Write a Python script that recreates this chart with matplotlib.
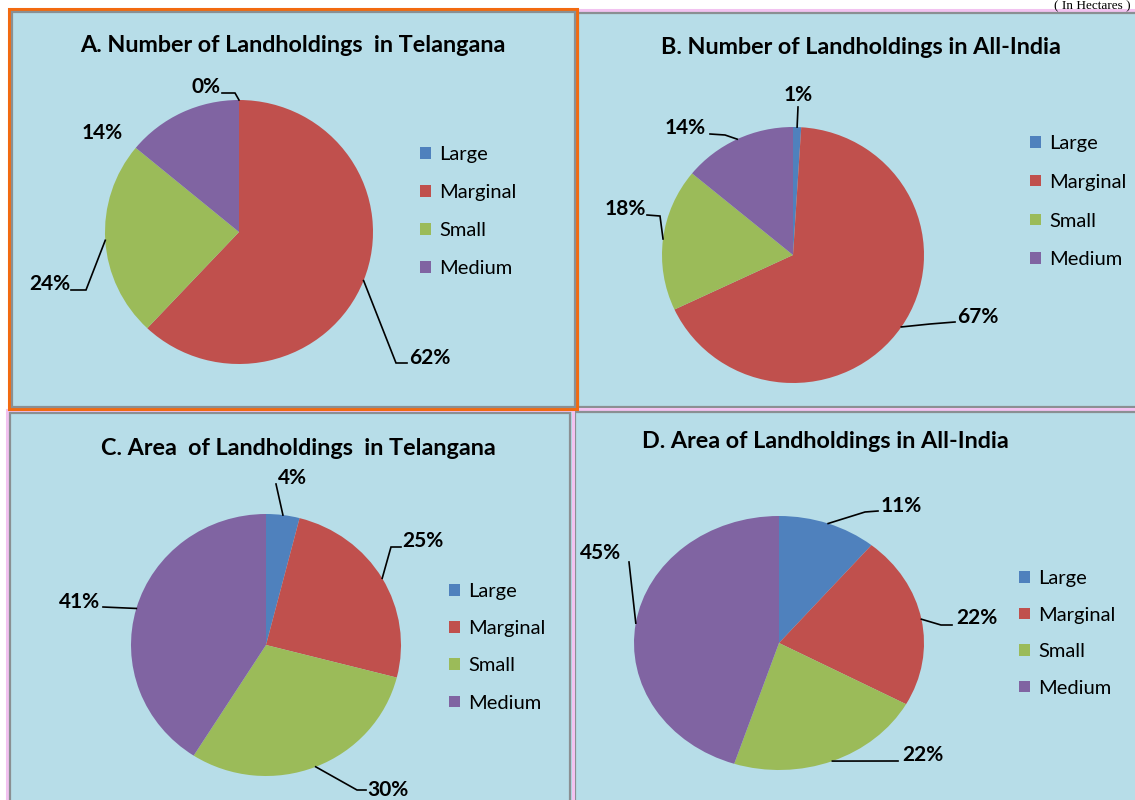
import numpy as np
import matplotlib
matplotlib.use("Agg")
import matplotlib.pyplot as plt
from matplotlib.patches import Rectangle

# ---------------- data ----------------
categories = ["Large", "Marginal", "Small", "Medium"]
colors = ["#4F81BD", "#C0504D", "#9BBB59", "#8064A2"]

titles = [
    "A. Number of Landholdings  in Telangana",
    "B. Number of Landholdings in All-India",
    "C. Area  of Landholdings  in Telangana",
    "D. Area of Landholdings in All-India",
]
num_telangana = [0, 62, 24, 14]
num_india = [1, 67, 18, 14]
area_telangana = [4, 25, 30, 41]
area_india = [11, 22, 22, 45]
series = [num_telangana, num_india, area_telangana, area_india]
unit_note = "( In Hectares )"

# ---------------- layout (pixels) ----------------
W, H = 1135, 800
BG = "#B7DDE8"
fig = plt.figure(figsize=(W / 100, H / 100), dpi=100)
fig.patch.set_facecolor("white")

FONT = "Lato"


def fx(x):
    return x / W


def fy(y):
    return 1 - y / H


def frame(x0, y0, x1, y1, outer, inner, z):
    fig.patches.append(Rectangle((fx(x0), fy(y1)), fx(x1 - x0), (y1 - y0) / H,
                                 transform=fig.transFigure, facecolor=BG,
                                 edgecolor=outer, linewidth=2.2, zorder=z))
    fig.patches.append(Rectangle((fx(x0 + 3), fy(y1 - 2.5)), fx(x1 - x0 - 5.5), (y1 - y0 - 5) / H,
                                 transform=fig.transFigure, facecolor="none",
                                 edgecolor=inner, linewidth=1.6, zorder=z + 0.5))


PINK = "#F2C2F0"
GRAY = "#8A8F92"
ORANGE = "#F26A10"
frame(575, 10, 1140, 409, PINK, GRAY, -10)
frame(572, 409, 1140, 805, PINK, GRAY, -9)
frame(7, 410, 573, 805, PINK, GRAY, -8)
frame(9, 9, 577, 409, ORANGE, GRAY, -7)

fig.text(fx(1131), fy(9), unit_note, family="Liberation Serif", fontsize=9.5,
         ha="right", va="baseline")

panels = [
    dict(title_xy=(293, 45), center=(239, 232), r=(134, 132),
         legend_xy=(420, 153), legend_gap=38.2,
         labels=[((206, 87), [(222, 93), (235, 93)]),
                 ((430, 358), [(407, 363), (396, 363)]),
                 ((50, 284), [(71, 290), (86, 290)]),
                 ((102, 133), None)]),
    dict(title_xy=(861, 47), center=(793, 255), r=(131, 128),
         legend_xy=(1030, 142), legend_gap=38.9,
         labels=[((798, 95), [(798, 107)]),
                 ((978, 317), [(955, 322), (930, 324)]),
                 ((625, 209), [(647, 215), (660, 216)]),
                 ((685, 128), [(710, 134), (725, 135)])]),
    dict(title_xy=(298, 448), center=(266, 645), r=(135, 131),
         legend_xy=(449, 590), legend_gap=37.3,
         labels=[((292, 478), [(276, 484)]),
                 ((423, 541), [(401, 547), (391, 547)]),
                 ((388, 790), [(366, 790), (357, 790)]),
                 ((80, 602), [(103, 607)])]),
    dict(title_xy=(825, 442), center=(779, 643), r=(145, 127),
         legend_xy=(1019, 577), legend_gap=36.7,
         labels=[((901, 506), [(878, 511), (865, 512)]),
                 ((977, 618), [(952, 625), (941, 625)]),
                 ((923, 755), [(898, 761)]),
                 ((601, 553), [(629, 562)])]),
]

LEG_FS = 14.5
fs_px = LEG_FS * 100 / 72
for vals, title, p in zip(series, titles, panels):
    cx, cy = p["center"]
    rx, ry = p["r"]
    ax = fig.add_axes([fx(cx - rx), fy(cy + ry), 2 * rx / W, 2 * ry / H])
    wedges, _ = ax.pie(vals, colors=colors, startangle=90, counterclock=False,
                       radius=1, wedgeprops=dict(linewidth=0))
    ax.set_xlim(-1, 1)
    ax.set_ylim(-1, 1)
    ax.set_aspect("auto")
    ax.axis("off")

    def to_data(pt):
        return ((pt[0] - cx) / rx, -(pt[1] - cy) / ry)

    total = float(sum(vals))
    for w, v, (txy, leader) in zip(wedges, vals, p["labels"]):
        ang = np.deg2rad((w.theta1 + w.theta2) / 2)
        anchor = (np.cos(ang), np.sin(ang))
        tx, ty = to_data(txy)
        ax.text(tx, ty, f"{round(v / total * 100):d}%", ha="center", va="center",
                fontsize=15, fontweight="bold", family=FONT, clip_on=False)
        if leader:
            pts = [to_data(q) for q in leader] + [anchor]
            xs, ys = zip(*pts)
            ax.plot(xs, ys, color="black", lw=1.2, clip_on=False,
                    solid_joinstyle="miter")

    fig.text(fx(p["title_xy"][0]), fy(p["title_xy"][1]), title, ha="center",
             va="center", fontsize=16.8, fontweight="bold", family=FONT)

    lx, ly = p["legend_xy"]
    gap = p["legend_gap"]
    fig.legend(wedges, categories, loc="upper left",
               bbox_to_anchor=(fx(lx), fy(ly - 7)), bbox_transform=fig.transFigure,
               frameon=False, handlelength=0.55, handleheight=0.5,
               handletextpad=0.4, labelspacing=(gap - 0.85 * fs_px) / fs_px,
               borderpad=0, borderaxespad=0,
               prop=dict(family=FONT, size=LEG_FS))

fig.savefig("out.png", dpi=100, facecolor="white")
